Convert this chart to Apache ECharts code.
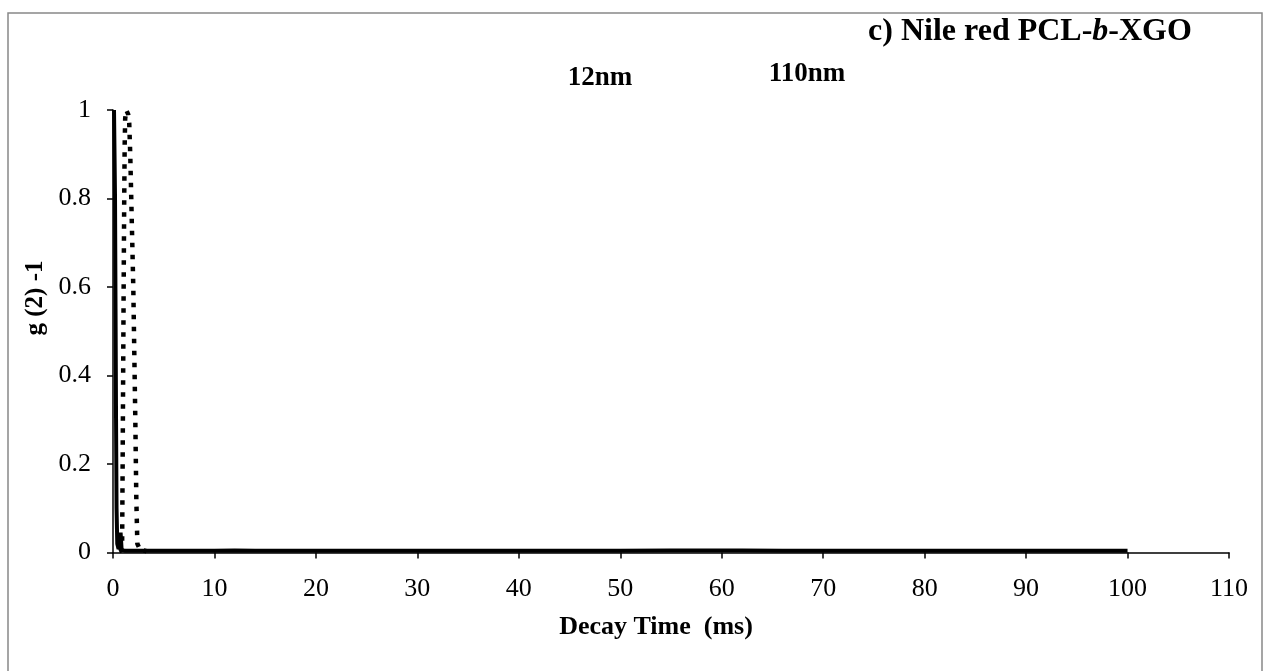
<!DOCTYPE html>
<html><head><meta charset="utf-8">
<script src="https://cdn.jsdelivr.net/npm/echarts@6/dist/echarts.min.js"></script>
<style>html,body{margin:0;padding:0;background:#fff}#c{width:1263px;height:671px}</style>
</head><body><div id="c"></div>
<script>
// 12nm (solid line)
const decayTime12 = [0.1, 0.15, 0.2, 0.25, 0.3, 0.35, 0.42, 0.55, 0.65, 0.75, 0.85, 0.95, 1.2, 1.6, 2.2, 3, 4, 6, 8, 10, 12, 14, 17, 20, 25, 30, 35, 40, 45, 50, 55, 58, 62, 66, 70, 75, 80, 85, 90, 95, 100];
const g2_12nm    = [1.0, 1.0, 0.8, 0.55, 0.3, 0.1, 0.02, 0.008, 0.01, 0.045, 0.006, 0.004, 0.004, 0.004, 0.004, 0.004, 0.004, 0.004, 0.004, 0.004, 0.005, 0.004, 0.004, 0.004, 0.004, 0.004, 0.004, 0.004, 0.004, 0.004, 0.005, 0.005, 0.005, 0.004, 0.004, 0.004, 0.004, 0.004, 0.004, 0.004, 0.004];
// 110nm (dotted line)
const decayTime110 = [0.6, 0.8, 0.9, 0.95, 1.0, 1.05, 1.1, 1.15, 1.2, 1.3, 1.4, 1.5, 1.6, 1.7, 1.8, 1.9, 2.0, 2.1, 2.2, 2.3, 2.4, 2.6, 2.8, 3.0, 3.3];
const g2_110nm     = [0.003, 0.005, 0.02, 0.2, 0.4, 0.6, 0.78, 0.92, 0.98, 1.0, 1.0, 0.99, 0.97, 0.9, 0.8, 0.7, 0.6, 0.45, 0.3, 0.12, 0.02, 0.01, 0.012, 0.005, 0.003];

const seriesNames = ['12nm', '110nm'];
const chartTitleParts = ['c) Nile red PCL-', 'b', '-XGO'];
const xAxisTitle = 'Decay Time  (ms)';
const yAxisTitle = 'g (2) -1';

const FONT = '"Liberation Serif","Times New Roman",Times,serif';
const chart = echarts.init(document.getElementById('c'), null, {renderer: 'canvas'});

chart.setOption({
  animation: false,
  backgroundColor: '#fff',
  grid: {left: 113, right: 34, top: 110, bottom: 118.4, containLabel: false, outerBoundsMode: 'none'},
  xAxis: {
    type: 'value', min: 0, max: 110, interval: 10,
    axisLine: {show: true, onZero: true, lineStyle: {color: '#000', width: 1.5}},
    axisTick: {show: true, inside: false, length: 6, lineStyle: {color: '#000', width: 1.5}},
    axisLabel: {color: '#000', fontFamily: FONT, fontSize: 26, margin: 24},
    splitLine: {show: false}
  },
  yAxis: {
    type: 'value', min: 0, max: 1, interval: 0.2,
    axisLine: {show: true, lineStyle: {color: '#000', width: 1.5}},
    axisTick: {show: true, inside: false, length: 6, lineStyle: {color: '#000', width: 1.5}},
    axisLabel: {color: '#000', fontFamily: FONT, fontSize: 26, margin: 22},
    splitLine: {show: false}
  },
  series: [
    {
      type: 'line', name: seriesNames[0],
      data: decayTime12.map((x, i) => [x, g2_12nm[i]]),
      showSymbol: false, symbol: 'none', z: 3,
      lineStyle: {color: '#000', width: 4}
    },
    {
      type: 'line', name: seriesNames[1],
      data: decayTime110.map((x, i) => [x, g2_110nm[i]]),
      showSymbol: false, symbol: 'none', z: 2,
      lineStyle: {color: '#000', width: 4.5, type: [4.5, 7.5], cap: 'butt'}
    }
  ],
  graphic: [
    {type: 'rect', shape: {x: 8, y: 13, width: 1254, height: 700}, style: {fill: 'none', stroke: '#888', lineWidth: 1.5}, silent: true},
    {type: 'text', x: 1030, y: 32, style: {
      text: '{a|' + chartTitleParts[0] + '}{i|' + chartTitleParts[1] + '}{a|' + chartTitleParts[2] + '}',
      align: 'center', verticalAlign: 'middle', textAlign: 'center', textVerticalAlign: 'middle',
      fill: '#000',
      rich: {
        a: {fontFamily: FONT, fontWeight: 'bold', fontSize: 32, fill: '#000', color: '#000'},
        i: {fontFamily: FONT, fontWeight: 'bold', fontStyle: 'italic', fontSize: 32, fill: '#000', color: '#000'}
      }
    }},
    {type: 'text', x: 600, y: 78, style: {text: seriesNames[0], font: 'bold 27px ' + FONT, fill: '#000', align: 'center', verticalAlign: 'middle', textAlign: 'center', textVerticalAlign: 'middle'}},
    {type: 'text', x: 807, y: 74, style: {text: seriesNames[1], font: 'bold 27px ' + FONT, fill: '#000', align: 'center', verticalAlign: 'middle', textAlign: 'center', textVerticalAlign: 'middle'}},
    {type: 'text', x: 656, y: 627, style: {text: xAxisTitle, font: 'bold 26px ' + FONT, fill: '#000', align: 'center', verticalAlign: 'middle', textAlign: 'center', textVerticalAlign: 'middle'}},
    {type: 'text', x: 36, y: 298, rotation: Math.PI / 2, style: {text: yAxisTitle, font: 'bold 25px ' + FONT, fill: '#000', align: 'center', verticalAlign: 'middle', textAlign: 'center', textVerticalAlign: 'middle'}}
  ]
});
</script>
</body></html>
